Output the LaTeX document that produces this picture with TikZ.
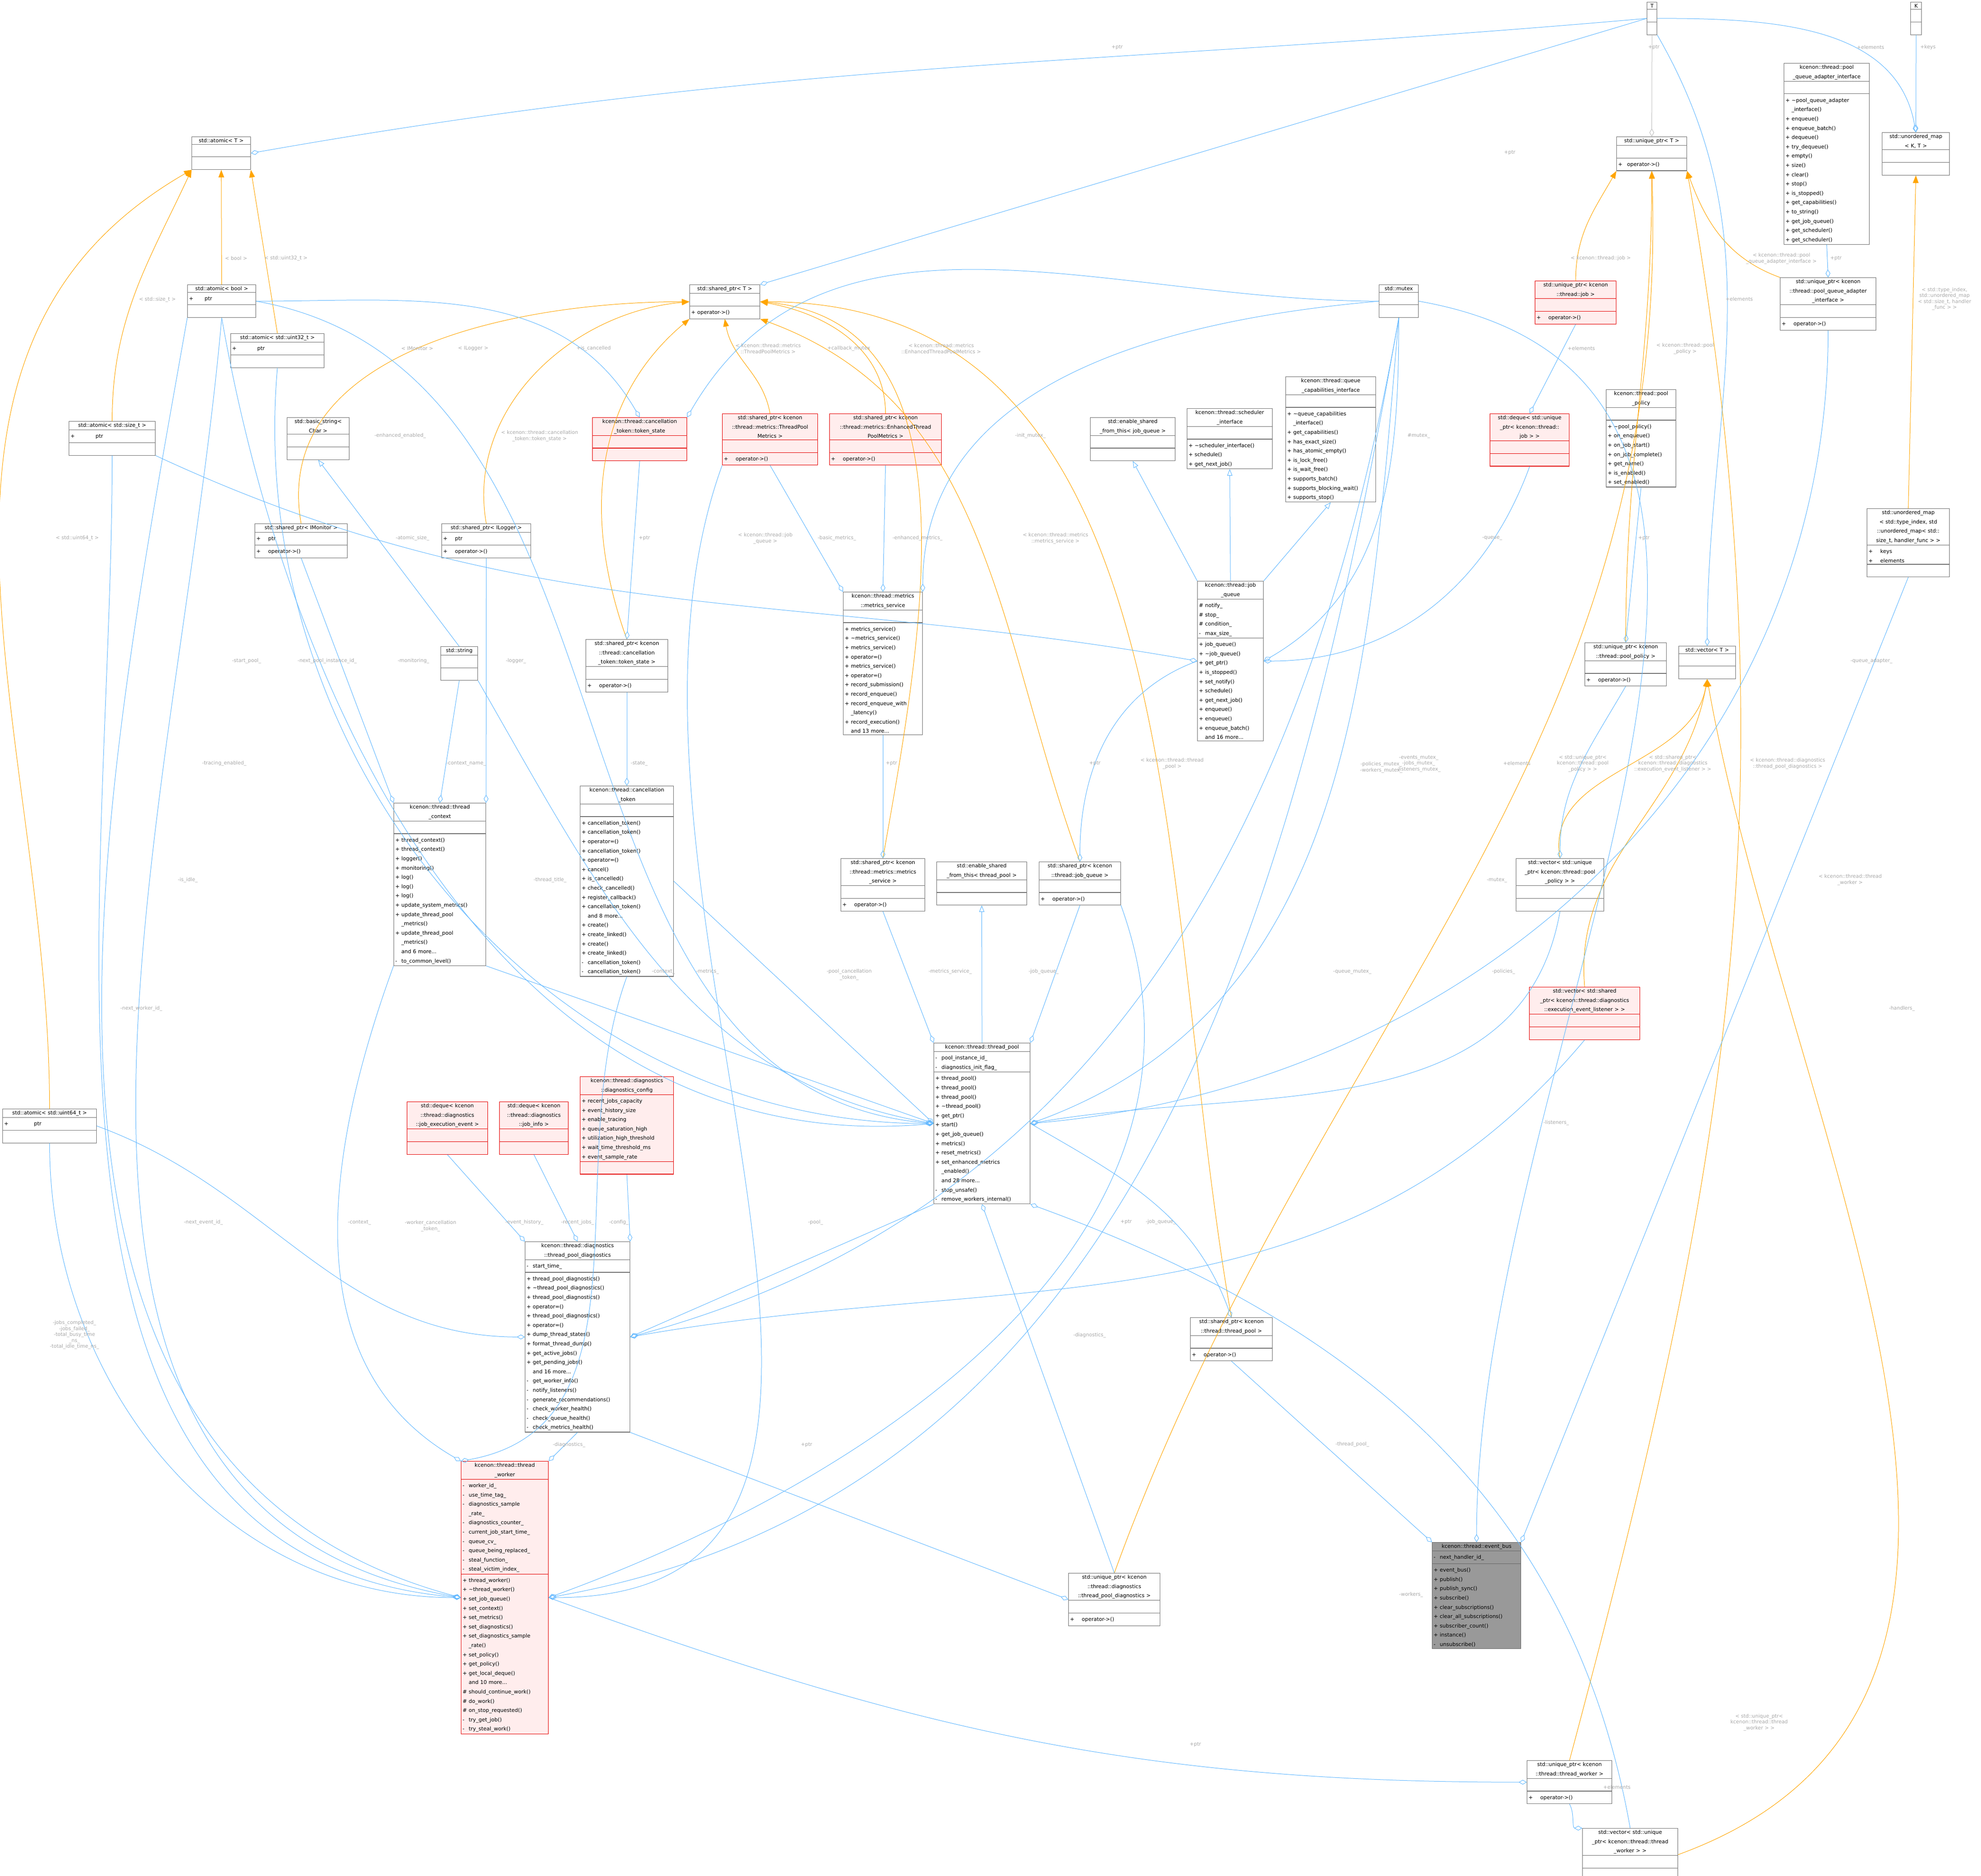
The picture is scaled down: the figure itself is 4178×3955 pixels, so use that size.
\documentclass[tikz,border=0pt]{standalone}
\usepackage{fontspec}
\setmainfont{DejaVu Sans}
\usetikzlibrary{shapes.multipart,arrows.meta}
\definecolor{eb}{HTML}{63B8FF}
\definecolor{eo}{HTML}{FFA500}
\definecolor{lblc}{HTML}{A8A8A8}
\newcommand\pp[2]{\makebox[1.3pt][l]{#1}#2}
\newcommand\cc{\hspace*{1.3pt}}
\newcommand\hs[1]{\hspace{#1pt}}
\newcommand\cls[8]{\node[#5, text width=#4*0.1pt-0.7pt] (#1) at (#2,#3) {\centering #6\par\nodepart{two}\strut #7\par\nodepart{three}\strut #8\par};}
\begin{document}
\begin{tikzpicture}[x=0.1pt,y=-0.1pt,
  box/.style={rectangle split, rectangle split parts=3, draw=black!55, line width=0.11pt, fill=white, inner sep=0.3pt, anchor=north west, align=left, font=\fontsize{1.1}{1.96}\selectfont},
  red/.style={box, draw=red!90!black, fill=red!7},
  dark/.style={box, fill=black!40, draw=black!60},
  lbl/.style={font=\fontsize{1.05}{1.25}\selectfont, text=lblc, align=center, inner sep=0.1pt},
  agg/.style={draw=eb, line width=0.1pt, -{Diamond[open,length=1.7pt,width=1pt]}},
  inh/.style={draw=eb, line width=0.1pt, -{Triangle[open,length=1.4pt,width=1.1pt]}},
  tpl/.style={draw=eo, line width=0.1pt, -{Triangle[length=1.6pt,width=1.2pt]}}]
\path[use as bounding box] (0,0) rectangle (4178,3955);
% ---------------- nodes
\cls{T}{3473}{4}{22}{box}{T}{}{}
\cls{K}{4029}{4}{24}{box}{K}{}{}
\cls{atomicT}{404}{288}{125}{box}{std::atomic< T >}{}{}
\cls{atomicBool}{395}{600}{145}{box}{std::atomic< bool >}{\pp{+}{\hs{2}ptr}}{}
\cls{atomicU32}{486}{703}{198}{box}{std::atomic< std::uint32\_t >}{\pp{+}{\hs{4}ptr}}{}
\cls{atomicSize}{145}{888}{183}{box}{std::atomic< std::size\_t >}{\pp{+}{\hs{4}ptr}}{}
\cls{atomicU64}{5}{2338}{199}{box}{std::atomic< std::uint64\_t >}{\pp{+}{\hs{5}ptr}}{}
\cls{basicString}{605}{880}{132}{box}{std::basic\_string<\\ Char >}{}{}
\cls{stdString}{929}{1363}{79}{box}{std::string}{}{}
\cls{spT}{1454}{600}{149}{box}{std::shared\_ptr< T >}{}{\pp{+}{operator->()}}
\cls{tokenState}{1249}{880}{200}{red}{kcenon::thread::cancellation\\\_token::token\_state}{}{}
\cls{spTPM}{1523}{872}{202}{red}{std::shared\_ptr< kcenon\\::thread::metrics::ThreadPool\\Metrics >}{}{\pp{+}{\hs{1.2}operator->()}}
\cls{spETPM}{1749}{872}{237}{red}{std::shared\_ptr< kcenon\\::thread::metrics::EnhancedThread\\PoolMetrics >}{}{\pp{+}{\hs{1.2}operator->()}}
\cls{spMon}{537}{1104}{196}{box}{std::shared\_ptr< IMonitor >}{\pp{+}{\hs{1.2}ptr}}{\pp{+}{\hs{1.2}operator->()}}
\cls{spLog}{931}{1104}{189}{box}{std::shared\_ptr< ILogger >}{\pp{+}{\hs{1.2}ptr}}{\pp{+}{\hs{1.2}operator->()}}
\cls{spTok}{1235}{1348}{174}{box}{std::shared\_ptr< kcenon\\::thread::cancellation\\\_token::token\_state >}{}{\pp{+}{\hs{1.2}operator->()}}
\cls{metricsSvc}{1778}{1248}{168}{box}{kcenon::thread::metrics\\::metrics\_service}{}{\pp{+}{metrics\_service()}\\\pp{+}{\textasciitilde metrics\_service()}\\\pp{+}{metrics\_service()}\\\pp{+}{operator=()}\\\pp{+}{metrics\_service()}\\\pp{+}{operator=()}\\\pp{+}{record\_submission()}\\\pp{+}{record\_enqueue()}\\\pp{+}{record\_enqueue\_with}\\\cc\_latency()\\\pp{+}{record\_execution()}\\\cc and 13 more...}
\cls{cancelTok}{1223}{1657}{198}{box}{kcenon::thread::cancellation\\\_token}{}{\pp{+}{cancellation\_token()}\\\pp{+}{cancellation\_token()}\\\pp{+}{operator=()}\\\pp{+}{cancellation\_token()}\\\pp{+}{operator=()}\\\pp{+}{cancel()}\\\pp{+}{is\_cancelled()}\\\pp{+}{check\_cancelled()}\\\pp{+}{register\_callback()}\\\pp{+}{cancellation\_token()}\\\cc and 8 more...\\\pp{+}{create()}\\\pp{+}{create\_linked()}\\\pp{+}{create()}\\\pp{+}{create\_linked()}\\\pp{-}{cancellation\_token()}\\\pp{-}{cancellation\_token()}}
\cls{threadCtx}{830}{1693}{195}{box}{kcenon::thread::thread\\\_context}{}{\pp{+}{thread\_context()}\\\pp{+}{thread\_context()}\\\pp{+}{logger()}\\\pp{+}{monitoring()}\\\pp{+}{log()}\\\pp{+}{log()}\\\pp{+}{log()}\\\pp{+}{update\_system\_metrics()}\\\pp{+}{update\_thread\_pool}\\\cc\_metrics()\\\pp{+}{update\_thread\_pool}\\\cc\_metrics()\\\cc and 6 more...\\\pp{-}{to\_common\_level()}}
\cls{spMS}{1773}{1810}{178}{box}{std::shared\_ptr< kcenon\\::thread::metrics::metrics\\\_service >}{}{\pp{+}{\hs{1.2}operator->()}}
\cls{esftTP}{1975}{1817}{191}{box}{std::enable\_shared\\\_from\_this< thread\_pool >}{}{}
\cls{spJQ}{2191}{1817}{173}{box}{std::shared\_ptr< kcenon\\::thread::job\_queue >}{}{\pp{+}{\hs{1.2}operator->()}}
\cls{threadPool}{1969}{2199}{204}{box}{kcenon::thread::thread\_pool}{\pp{-}{pool\_instance\_id\_}\\\pp{-}{diagnostics\_init\_flag\_}}{\pp{+}{thread\_pool()}\\\pp{+}{thread\_pool()}\\\pp{+}{thread\_pool()}\\\pp{+}{\textasciitilde thread\_pool()}\\\pp{+}{get\_ptr()}\\\pp{+}{start()}\\\pp{+}{get\_job\_queue()}\\\pp{+}{metrics()}\\\pp{+}{reset\_metrics()}\\\pp{+}{set\_enhanced\_metrics}\\\cc\_enabled()\\\cc and 28 more...\\\pp{-}{stop\_unsafe()}\\\pp{-}{remove\_workers\_internal()}}
\cls{spTP}{2510}{2778}{174}{box}{std::shared\_ptr< kcenon\\::thread::thread\_pool >}{}{\pp{+}{\hs{1.2}operator->()}}
\cls{dqExec}{858}{2323}{171}{red}{std::deque< kcenon\\::thread::diagnostics\\::job\_execution\_event >}{}{}
\cls{dqInfo}{1053}{2323}{146}{red}{std::deque< kcenon\\::thread::diagnostics\\::job\_info >}{}{}
\cls{diagCfg}{1223}{2270}{198}{red}{kcenon::thread::diagnostics\\::diagnostics\_config}{\pp{+}{recent\_jobs\_capacity}\\\pp{+}{event\_history\_size}\\\pp{+}{enable\_tracing}\\\pp{+}{queue\_saturation\_high}\\\pp{+}{utilization\_high\_threshold}\\\pp{+}{wait\_time\_threshold\_ms}\\\pp{+}{event\_sample\_rate}}{}
\cls{tpDiag}{1107}{2618}{222}{box}{kcenon::thread::diagnostics\\::thread\_pool\_diagnostics}{\pp{-}{start\_time\_}}{\pp{+}{thread\_pool\_diagnostics()}\\\pp{+}{\textasciitilde thread\_pool\_diagnostics()}\\\pp{+}{thread\_pool\_diagnostics()}\\\pp{+}{operator=()}\\\pp{+}{thread\_pool\_diagnostics()}\\\pp{+}{operator=()}\\\pp{+}{dump\_thread\_states()}\\\pp{+}{format\_thread\_dump()}\\\pp{+}{get\_active\_jobs()}\\\pp{+}{get\_pending\_jobs()}\\\cc and 16 more...\\\pp{-}{get\_worker\_info()}\\\pp{-}{notify\_listeners()}\\\pp{-}{generate\_recommendations()}\\\pp{-}{check\_worker\_health()}\\\pp{-}{check\_queue\_health()}\\\pp{-}{check\_metrics\_health()}}
\cls{worker}{972}{3081}{185}{red}{kcenon::thread::thread\\\_worker}{\pp{-}{worker\_id\_}\\\pp{-}{use\_time\_tag\_}\\\pp{-}{diagnostics\_sample}\\\cc\_rate\_\\\pp{-}{diagnostics\_counter\_}\\\pp{-}{current\_job\_start\_time\_}\\\pp{-}{queue\_cv\_}\\\pp{-}{queue\_being\_replaced\_}\\\pp{-}{steal\_function\_}\\\pp{-}{steal\_victim\_index\_}}{\pp{+}{thread\_worker()}\\\pp{+}{\textasciitilde thread\_worker()}\\\pp{+}{set\_job\_queue()}\\\pp{+}{set\_context()}\\\pp{+}{set\_metrics()}\\\pp{+}{set\_diagnostics()}\\\pp{+}{set\_diagnostics\_sample}\\\cc\_rate()\\\pp{+}{set\_policy()}\\\pp{+}{get\_policy()}\\\pp{+}{get\_local\_deque()}\\\cc and 10 more...\\\pp{\#}{should\_continue\_work()}\\\pp{\#}{do\_work()}\\\pp{\#}{on\_stop\_requested()}\\\pp{-}{try\_get\_job()}\\\pp{-}{try\_steal\_work()}}
\cls{upDiag}{2253}{3317}{194}{box}{std::unique\_ptr< kcenon\\::thread::diagnostics\\::thread\_pool\_diagnostics >}{}{\pp{+}{\hs{1.2}operator->()}}
\cls{upT}{3409}{288}{149}{box}{std::unique\_ptr< T >}{}{\pp{+}{\hs{0.6}operator->()}}
\cls{umKT}{3969}{279}{143}{box}{std::unordered\_map\\< K, T >}{}{}
\cls{pqai}{3762}{133}{181}{box}{kcenon::thread::pool\\\_queue\_adapter\_interface}{}{\pp{+}{\textasciitilde pool\_queue\_adapter}\\\cc\_interface()\\\pp{+}{enqueue()}\\\pp{+}{enqueue\_batch()}\\\pp{+}{dequeue()}\\\pp{+}{try\_dequeue()}\\\pp{+}{empty()}\\\pp{+}{size()}\\\pp{+}{clear()}\\\pp{+}{stop()}\\\pp{+}{is\_stopped()}\\\pp{+}{get\_capabilities()}\\\pp{+}{to\_string()}\\\pp{+}{get\_job\_queue()}\\\pp{+}{get\_scheduler()}\\\pp{+}{get\_scheduler()}}
\cls{mutex}{2908}{600}{84}{box}{std::mutex}{}{}
\cls{upJob}{3237}{592}{172}{red}{std::unique\_ptr< kcenon\\::thread::job >}{}{\pp{+}{\hs{1.2}operator->()}}
\cls{upPQA}{3754}{585}{203}{box}{std::unique\_ptr< kcenon\\::thread::pool\_queue\_adapter\\\_interface >}{}{\pp{+}{\hs{1.2}operator->()}}
\cls{qci}{2711}{794}{191}{box}{kcenon::thread::queue\\\_capabilities\_interface}{}{\pp{+}{\textasciitilde queue\_capabilities}\\\cc\_interface()\\\pp{+}{get\_capabilities()}\\\pp{+}{has\_exact\_size()}\\\pp{+}{has\_atomic\_empty()}\\\pp{+}{is\_lock\_free()}\\\pp{+}{is\_wait\_free()}\\\pp{+}{supports\_batch()}\\\pp{+}{supports\_blocking\_wait()}\\\pp{+}{supports\_stop()}}
\cls{schedI}{2503}{861}{181}{box}{kcenon::thread::scheduler\\\_interface}{}{\pp{+}{\textasciitilde scheduler\_interface()}\\\pp{+}{schedule()}\\\pp{+}{get\_next\_job()}}
\cls{esftJQ}{2299}{880}{180}{box}{std::enable\_shared\\\_from\_this< job\_queue >}{}{}
\cls{dqJob}{3142}{872}{168}{red}{std::deque< std::unique\\\_ptr< kcenon::thread::\\job > >}{}{}
\cls{poolPolicy}{3387}{821}{148}{box}{kcenon::thread::pool\\\_policy}{}{\pp{+}{\textasciitilde pool\_policy()}\\\pp{+}{on\_enqueue()}\\\pp{+}{on\_job\_start()}\\\pp{+}{on\_job\_complete()}\\\pp{+}{get\_name()}\\\pp{+}{is\_enabled()}\\\pp{+}{set\_enabled()}}
\cls{umTI}{3937}{1072}{175}{box}{std::unordered\_map\\< std::type\_index, std\\::unordered\_map< std::\\size\_t, handler\_func > >}{\pp{+}{\hs{1.2}keys}\\\pp{+}{\hs{1.2}elements}}{}
\cls{jobQueue}{2525}{1225}{140}{box}{kcenon::thread::job\\\_queue}{\pp{\#}{notify\_}\\\pp{\#}{stop\_}\\\pp{\#}{condition\_}\\\pp{-}{max\_size\_}}{\pp{+}{job\_queue()}\\\pp{+}{\textasciitilde job\_queue()}\\\pp{+}{get\_ptr()}\\\pp{+}{is\_stopped()}\\\pp{+}{set\_notify()}\\\pp{+}{schedule()}\\\pp{+}{get\_next\_job()}\\\pp{+}{enqueue()}\\\pp{+}{enqueue()}\\\pp{+}{enqueue\_batch()}\\\cc and 16 more...}
\cls{upPolicy}{3342}{1355}{173}{box}{std::unique\_ptr< kcenon\\::thread::pool\_policy >}{}{\pp{+}{\hs{1.2}operator->()}}
\cls{vecT}{3540}{1362}{121}{box}{std::vector< T >}{}{}
\cls{vecUPP}{3197}{1810}{186}{box}{std::vector< std::unique\\\_ptr< kcenon::thread::pool\\\_policy > >}{}{}
\cls{vecListener}{3225}{2081}{234}{red}{std::vector< std::shared\\\_ptr< kcenon::thread::diagnostics\\::execution\_event\_listener > >}{}{}
\cls{eventBus}{3020}{3252}{188}{dark}{kcenon::thread::event\_bus}{\pp{-}{next\_handler\_id\_}}{\pp{+}{event\_bus()}\\\pp{+}{publish()}\\\pp{+}{publish\_sync()}\\\pp{+}{subscribe()}\\\pp{+}{clear\_subscriptions()}\\\pp{+}{clear\_all\_subscriptions()}\\\pp{+}{subscriber\_count()}\\\pp{+}{instance()}\\\pp{-}{unsubscribe()}}
\cls{upWorker}{3220}{3712}{180}{box}{std::unique\_ptr< kcenon\\::thread::thread\_worker >}{}{\pp{+}{\hs{1.2}operator->()}}
\cls{vecWorker}{3337}{3855}{202}{box}{std::vector< std::unique\\\_ptr< kcenon::thread::thread\\\_worker > >}{}{}
% ---------------- template edges
\draw[tpl] (atomicBool) -- (atomicT);
\draw[tpl] (atomicU32.north) -- (atomicT.south east);
\draw[tpl] (atomicSize.north) to[out=90,in=-115] (atomicT.south west);
\draw[tpl] (atomicU64.north) to[out=90,in=-150] (atomicT.south west);
\draw[tpl] (spMon.north) to[out=100,in=180] (spT.west);
\draw[tpl] (spLog.north) to[out=100,in=185] (spT.west);
\draw[tpl] (spTok.north) to[out=110,in=-140] (spT.south west);
\draw[tpl] (spTPM.north) to[out=100,in=-80] (spT.south);
\draw[tpl] (spETPM.north) to[out=90,in=-10] (spT.east);
\draw[tpl] (spMS.north) to[out=80,in=-5] (spT.east);
\draw[tpl] (spJQ.north) to[out=110,in=-20] (spT.south east);
\draw[tpl] (spTP.north) to[out=100,in=0] (spT.east);
\draw[tpl] (upJob.north) to[out=90,in=-120] (upT.south west);
\draw[tpl] (upPQA.north west) to[out=160,in=-70] (upT.south east);
\draw[tpl] (upPolicy.north) to[out=90,in=-90] (upT.south);
\draw[tpl] (upDiag.north) to[out=70,in=-88] (upT.south);
\draw[tpl] (upWorker.north) to[out=75,in=-80] (upT.south east);
\draw[tpl] (umTI.north) -- (umKT.south);
\draw[tpl] (vecUPP.north) to[out=100,in=-100] (vecT.south);
\draw[tpl] (vecListener.north) to[out=95,in=-100] (vecT.south);
\draw[tpl] (vecWorker.east) to[out=20,in=-80] (vecT.south);
% ---------------- usage edges
\draw[agg] (T.west) to[out=185,in=10] (atomicT.east);
\draw[agg] (T.west) -- (spT.north east);
\draw[agg, draw=black!25] (T.south) -- (upT.north);
\draw[agg] (T.south east) to[out=-60,in=90] (vecT.north);
\draw[agg] (T.east) to[out=0,in=100] (umKT.north);
\draw[agg] (K.south) -- (umKT.north);
\draw[agg] (atomicBool.east) to[out=0,in=120] (tokenState.north);
\draw[agg] (mutex.west) to[out=180,in=60] (tokenState.north east);
\draw[agg] (tokenState.south) -- (spTok.north);
\draw[agg] (spTok.south) -- (cancelTok.north);
\draw[agg] (spTPM.south) -- (metricsSvc.north west);
\draw[agg] (spETPM.south) -- (metricsSvc.north);
\draw[agg] (mutex.west) to[out=185,in=90] (metricsSvc.north east);
\draw[agg] (atomicSize.south east) to[out=-25,in=170] (jobQueue.west);
\draw[agg] (mutex.south) to[out=-90,in=30] (jobQueue.east);
\draw[agg] (dqJob.south) to[out=-110,in=0] (jobQueue.east);
\draw[agg] (upJob.south) -- (dqJob.north);
\draw[inh] (jobQueue.north west) -- (esftJQ.south);
\draw[inh] (jobQueue.north) -- (schedI.south);
\draw[inh] (jobQueue.north east) -- (qci.south);
\draw[inh] (stdString.north) -- (basicString.south);
\draw[inh] (threadPool.north) -- (esftTP.south);
\draw[agg] (metricsSvc.south) -- (spMS.north);
\draw[agg] (jobQueue.west) to[out=200,in=90] (spJQ.north);
\draw[agg] (threadPool.east) to[out=-30,in=110] (spTP.north);
\draw[agg] (spJQ.south) -- (threadPool.north east);
\draw[agg] (spJQ.south east) to[out=-70,in=20] (worker.east);
\draw[agg] (spMS.south) -- (threadPool.north west);
\draw[agg] (cancelTok.east) -- (threadPool.west);
\draw[agg] (threadCtx.south east) -- (threadPool.west);
\draw[agg] (mutex.south) to[out=-95,in=20] (threadPool.east);
\draw[agg] (vecUPP.south) to[out=-100,in=10] (threadPool.east);
\draw[agg] (upPQA.south) to[out=-90,in=5] (threadPool.east);
\draw[agg] (atomicBool.south) to[out=-80,in=185] (threadPool.west);
\draw[agg] (atomicBool.east) to[out=-10,in=175] (threadPool.west);
\draw[agg] (atomicU32.south) to[out=-95,in=180] (threadPool.west);
\draw[agg] (stdString.south east) to[out=-60,in=170] (threadPool.west);
\draw[agg] (spMon.south) -- (threadCtx.north west);
\draw[agg] (spLog.south) -- (threadCtx.north east);
\draw[agg] (stdString.south) -- (threadCtx.north);
\draw[agg] (upDiag.north) -- (threadPool.south);
\draw[agg] (upWorker.south) to[out=-60,in=180] (vecWorker.north west);
\draw[agg] (vecWorker.north) to[out=100,in=-20] (threadPool.south east);
\draw[agg] (pqai.south) -- (upPQA.north);
\draw[agg] (poolPolicy.south) -- (upPolicy.north);
\draw[agg] (upPolicy.south) to[out=-120,in=90] (vecUPP.north);
\draw[agg] (threadPool.south west) -- (tpDiag.east);
\draw[agg] (dqExec.south) -- (tpDiag.north west);
\draw[agg] (dqInfo.south) -- (tpDiag.north);
\draw[agg] (diagCfg.south) -- (tpDiag.north east);
\draw[agg] (atomicU64.east) to[out=-20,in=180] (tpDiag.west);
\draw[agg] (vecListener.south) to[out=-130,in=10] (tpDiag.east);
\draw[agg] (mutex.south) to[out=-100,in=15] (tpDiag.east);
\draw[agg] (tpDiag.south east) -- (upDiag.west);
\draw[agg] (tpDiag.south) -- (worker.north east);
\draw[agg] (threadCtx.south west) to[out=-110,in=150] (worker.north west);
\draw[agg] (cancelTok.south) to[out=-110,in=10] (worker.north west);
\draw[agg] (atomicBool.south) to[out=-95,in=170] (worker.west);
\draw[agg] (atomicBool.south west) to[out=-100,in=165] (worker.west);
\draw[agg] (atomicSize.south) to[out=-90,in=175] (worker.west);
\draw[agg] (atomicU64.south) to[out=-90,in=180] (worker.west);
\draw[agg] (spTPM.south west) to[out=-110,in=0] (worker.east);
\draw[agg] (mutex.south) to[out=-100,in=10] (worker.east);
\draw[agg] (worker.east) to[out=-20,in=180] (upWorker.west);
\draw[agg] (spTP.south) -- (eventBus.north west);
\draw[agg] (mutex.east) to[out=-10,in=90] (eventBus.north);
\draw[agg] (umTI.south) -- (eventBus.north east);
% ---------------- labels
\node[lbl] (l1) at (2356,100) {+ptr};
\node[lbl] (l2) at (3184,322) {+ptr};
\node[lbl] (l3) at (3488,100) {+ptr};
\node[lbl] (l4) at (3668,631) {+elements};
\node[lbl] (l5) at (3945,100) {+elements};
\node[lbl] (l6) at (4066,100) {+keys};
\node[lbl] (l7) at (498,545) {< bool >};
\node[lbl] (l8) at (603,545) {< std::uint32\_t >};
\node[lbl] (l9) at (332,632) {< std::size\_t >};
\node[lbl] (l10) at (163,1135) {< std::uint64\_t >};
\node[lbl] (l11) at (880,735) {< IMonitor >};
\node[lbl] (l12) at (998,735) {< ILogger >};
\node[lbl] (l13) at (1138,919) {< kcenon::thread::cancellation\\\_token::token\_state >};
\node[lbl] (l14) at (1620,735) {< kcenon::thread::metrics\\::ThreadPoolMetrics >};
\node[lbl] (l15) at (1985,735) {< kcenon::thread::metrics\\::EnhancedThreadPoolMetrics >};
\node[lbl] (l16) at (2226,1135) {< kcenon::thread::metrics\\::metrics\_service >};
\node[lbl] (l17) at (1614,1135) {< kcenon::thread::job\\\_queue >};
\node[lbl] (l18) at (2472,1610) {< kcenon::thread::thread\\\_pool >};
\node[lbl] (l19) at (3376,545) {< kcenon::thread::job >};
\node[lbl] (l20) at (3757,545) {< kcenon::thread::pool\\\_queue\_adapter\_interface >};
\node[lbl] (l21) at (3554,735) {< kcenon::thread::pool\\\_policy >};
\node[lbl] (l22) at (3770,1610) {< kcenon::thread::diagnostics\\::thread\_pool\_diagnostics >};
\node[lbl] (l23) at (3902,1855) {< kcenon::thread::thread\\\_worker >};
\node[lbl] (l24) at (4101,630) {< std::type\_index,\\std::unordered\_map\\< std::size\_t, handler\\\_func > >};
\node[lbl] (l25) at (3338,1610) {< std::unique\_ptr<\\kcenon::thread::pool\\\_policy > >};
\node[lbl] (l26) at (3528,1610) {< std::shared\_ptr<\\kcenon::thread::diagnostics\\::execution\_event\_listener > >};
\node[lbl] (l27) at (3710,3632) {< std::unique\_ptr<\\kcenon::thread::thread\\\_worker > >};
\node[lbl] (l28) at (1252,735) {+is\_cancelled};
\node[lbl] (l29) at (1790,735) {+callback\_mutex};
\node[lbl] (l30) at (1359,1135) {+ptr};
\node[lbl] (l31) at (1348,1610) {-state\_};
\node[lbl] (l32) at (1765,1135) {-basic\_metrics\_};
\node[lbl] (l33) at (1935,1135) {-enhanced\_metrics\_};
\node[lbl] (l34) at (2173,919) {-init\_mutex\_};
\node[lbl] (l35) at (844,919) {-enhanced\_enabled\_};
\node[lbl] (l36) at (870,1135) {-atomic\_size\_};
\node[lbl] (l37) at (2992,919) {\#mutex\_};
\node[lbl] (l38) at (3147,1135) {-queue\_};
\node[lbl] (l39) at (3335,735) {+elements};
\node[lbl] (l40) at (1880,1610) {+ptr};
\node[lbl] (l41) at (2309,1610) {+ptr};
\node[lbl] (l42) at (2375,2577) {+ptr};
\node[lbl] (l43) at (2201,2049) {-job\_queue\_};
\node[lbl] (l44) at (2448,2577) {-job\_queue\_};
\node[lbl] (l45) at (2004,2049) {-metrics\_service\_};
\node[lbl] (l46) at (1791,2055) {-pool\_cancellation\\\_token\_};
\node[lbl] (l47) at (1399,2049) {-context\_};
\node[lbl] (l48) at (2913,1618) {-policies\_mutex\_\\-workers\_mutex\_};
\node[lbl] (l49) at (3171,2049) {-policies\_};
\node[lbl] (l50) at (3947,1394) {-queue\_adapter\_};
\node[lbl] (l51) at (520,1394) {-start\_pool\_};
\node[lbl] (l52) at (690,1394) {-next\_pool\_instance\_id\_};
\node[lbl] (l53) at (1160,1856) {-thread\_title\_};
\node[lbl] (l54) at (872,1394) {-monitoring\_};
\node[lbl] (l55) at (1088,1394) {-logger\_};
\node[lbl] (l56) at (983,1610) {-context\_name\_};
\node[lbl] (l57) at (2298,2816) {-diagnostics\_};
\node[lbl] (l58) at (3410,3768) {+elements};
\node[lbl] (l59) at (2976,3363) {-workers\_};
\node[lbl] (l60) at (3872,545) {+ptr};
\node[lbl] (l61) at (3467,1135) {+ptr};
\node[lbl] (l62) at (3199,1610) {+elements};
\node[lbl] (l63) at (1720,2578) {-pool\_};
\node[lbl] (l64) at (1106,2578) {-event\_history\_};
\node[lbl] (l65) at (1218,2578) {-recent\_jobs\_};
\node[lbl] (l66) at (1305,2578) {-config\_};
\node[lbl] (l67) at (429,2578) {-next\_event\_id\_};
\node[lbl] (l68) at (3282,2368) {-listeners\_};
\node[lbl] (l69) at (2992,1610) {-events\_mutex\_\\-jobs\_mutex\_\\-listeners\_mutex\_};
\node[lbl] (l70) at (1701,3047) {+ptr};
\node[lbl] (l71) at (1200,3047) {-diagnostics\_};
\node[lbl] (l72) at (758,2578) {-context\_};
\node[lbl] (l73) at (908,2585) {-worker\_cancellation\\\_token\_};
\node[lbl] (l74) at (396,1856) {-is\_idle\_};
\node[lbl] (l75) at (473,1610) {-tracing\_enabled\_};
\node[lbl] (l76) at (298,2127) {-next\_worker\_id\_};
\node[lbl] (l77) at (157,2815) {-jobs\_completed\_\\-jobs\_failed\_\\-total\_busy\_time\\\_ns\_\\-total\_idle\_time\_ns\_};
\node[lbl] (l78) at (1492,2049) {-metrics\_};
\node[lbl] (l79) at (2852,2049) {-queue\_mutex\_};
\node[lbl] (l80) at (2521,3679) {+ptr};
\node[lbl] (l81) at (2852,3046) {-thread\_pool\_};
\node[lbl] (l82) at (3157,1856) {-mutex\_};
\node[lbl] (l83) at (4011,2127) {-handlers\_};
\end{tikzpicture}
\end{document}
